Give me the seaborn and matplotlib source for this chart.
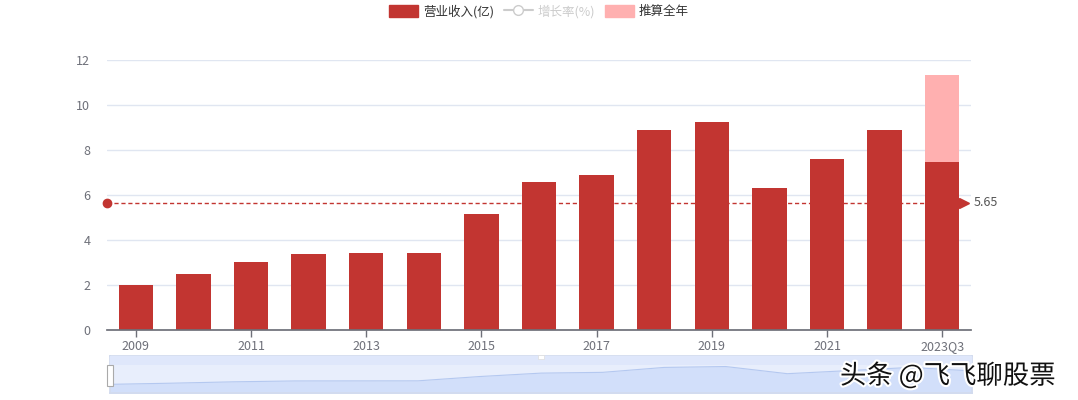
"""Revenue bar chart with full-year estimate, mean line and a zoom strip"""

import matplotlib
matplotlib.use("Agg")
import matplotlib.pyplot as plt
import matplotlib.patheffects as pe
from matplotlib.lines import Line2D
from matplotlib.patches import Patch, Rectangle
import numpy as np
import pandas as pd
import seaborn as sns

# Data
periods = ["2009", "2010", "2011", "2012", "2013", "2014", "2015", "2016",
           "2017", "2018", "2019", "2020", "2021", "2022", "2023Q3"]
revenue = [2.01, 2.48, 3.03, 3.39, 3.41, 3.43, 5.17, 6.56,
           6.87, 8.87, 9.23, 6.33, 7.58, 8.87, 7.45]
est_periods = ["2023Q3"]
est_full_year = [11.35]
tick_labels = ["2009", "2011", "2013", "2015", "2017", "2019", "2021", "2023Q3"]

RED = "#c23531"
PINK = "#ffb0b0"
GREY = "#6e7079"
GRID = "#e0e6f1"

sns.set_theme(style="white")
plt.rcParams["font.family"] = ["Noto Sans CJK SC", "DejaVu Sans"]

rev_df = pd.DataFrame({"period": periods, "value": revenue})
est_df = pd.DataFrame({"period": est_periods, "value": est_full_year})
mean_val = float(np.mean(revenue))

fig = plt.figure(figsize=(10.78, 4.0), dpi=100)
ax = fig.add_axes([107 / 1078, 70 / 400, 864 / 1078, 270 / 400])

# Estimated full year behind, actual revenue in front
sns.barplot(data=est_df, x="period", y="value", order=periods, color=PINK,
            width=0.6, saturation=1, linewidth=0, ax=ax, zorder=2)
sns.barplot(data=rev_df, x="period", y="value", order=periods, color=RED,
            width=0.6, saturation=1, linewidth=0, ax=ax, zorder=3)

ax.set_xlim(-0.5, len(periods) - 0.5)
ax.set_ylim(0, 12)
ax.set_yticks(range(0, 13, 2))
ax.set_xlabel("")
ax.set_ylabel("")
ax.set_xticks([periods.index(t) for t in tick_labels])
ax.set_xticklabels(tick_labels)
ax.tick_params(axis="x", colors=GREY, labelsize=9, length=5, width=1,
               direction="out", pad=2, bottom=True)
ax.tick_params(axis="y", colors=GREY, labelsize=9, length=0, pad=12)
for lbl in ax.get_xticklabels() + ax.get_yticklabels():
    lbl.set_color(GREY)

for spine in ["top", "right", "left"]:
    ax.spines[spine].set_visible(False)
ax.spines["bottom"].set_color(GREY)
ax.spines["bottom"].set_zorder(5)
ax.yaxis.grid(True, color=GRID, lw=1)
ax.set_axisbelow(True)

# Mean line
x0, x1 = -0.5, len(periods) - 0.5
ax.plot([x0, x1 - 0.2], [mean_val, mean_val], ls=(0, (3, 2)), color=RED,
        lw=1, zorder=4, clip_on=False)
ax.plot([x0], [mean_val], marker="o", ms=6, color=RED, clip_on=False, zorder=6)
ax.plot([x1 - 0.12], [mean_val], marker=">", ms=7, color=RED, clip_on=False,
        zorder=6)
ax.text(x1 + 0.05, mean_val, f"{mean_val:.2f}", color="#555555", fontsize=9,
        va="center", ha="left")

# Legend
handles = [
    Patch(facecolor=RED, edgecolor=RED, label="营业收入(亿)"),
    Line2D([0], [0], color="#cccccc", lw=1.5, marker="o", ms=7,
           markerfacecolor="white", markeredgecolor="#cccccc", label="增长率(%)"),
    Patch(facecolor=PINK, edgecolor=PINK, label="推算全年"),
]
leg = fig.legend(handles=handles, loc="upper center", bbox_to_anchor=(0.5, 1.017),
                 ncol=3, frameon=False, fontsize=9, handlelength=2.3,
                 handleheight=1.1, columnspacing=0.8, handletextpad=0.4)
for txt, col in zip(leg.get_texts(), ["#333333", "#cccccc", "#333333"]):
    txt.set_color(col)

# Data zoom strip
zx = fig.add_axes([110 / 1078, 7 / 400, 862 / 1078, 37 / 400])
zx.set_facecolor("#e8eefc")
xs = np.arange(len(periods))
zx.fill_between(xs, revenue, -2, color="#d2dffa", lw=0)
sns.lineplot(x=xs, y=revenue, color="#b4c8f0", lw=0.8, ax=zx)
zx.set_xlim(0, len(periods) - 1)
zx.set_ylim(-1.5, 13.5)
zx.set_xticks([])
zx.set_yticks([])
for spine in zx.spines.values():
    spine.set_color("#d2dbee")
zx.add_patch(Rectangle((0, 0.77), 1, 0.23, transform=zx.transAxes,
                       facecolor="#dfe7fb", lw=0, zorder=3))
zx.add_patch(Rectangle((-0.004, 0.2), 0.008, 0.55, transform=zx.transAxes,
                       facecolor="white", edgecolor="#aaaaaa", lw=0.8,
                       clip_on=False, zorder=5))
zx.add_patch(Rectangle((0.496, 0.92), 0.008, 0.1, transform=zx.transAxes,
                       facecolor="white", edgecolor="#dddddd", lw=0.5,
                       clip_on=False, zorder=5))

# Watermark
fig.text(840 / 1078, 0.06, "头条 @飞飞聊股票", fontsize=19, color="#111111",
         ha="left", va="center",
         path_effects=[pe.withStroke(linewidth=3, foreground="white")])

fig.savefig("out.png", dpi=100)
